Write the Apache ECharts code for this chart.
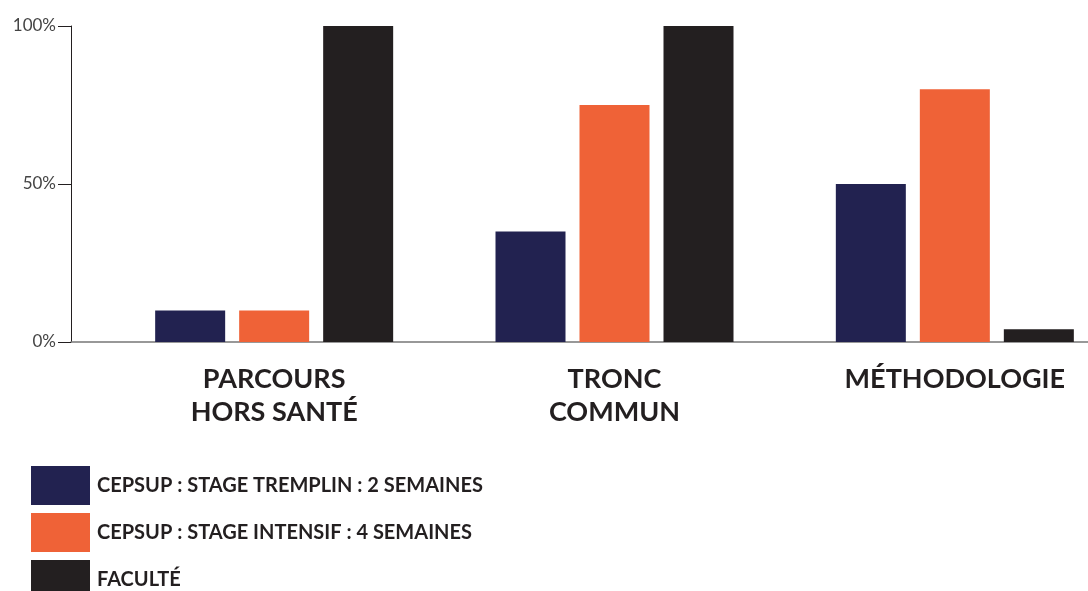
<!DOCTYPE html>
<html>
<head>
<meta charset="utf-8">
<script src="https://cdn.jsdelivr.net/npm/echarts@6/dist/echarts.min.js"></script>
<style>
html,body{margin:0;padding:0;background:#fff;}
#chart{width:1088px;height:591px;}
</style>
</head>
<body>
<div id="chart"></div>
<script>
const categories = ['PARCOURS\nHORS SANTÉ', 'TRONC\nCOMMUN', 'MÉTHODOLOGIE'];
const seriesNames = ['CEPSUP : STAGE TREMPLIN : 2 SEMAINES', 'CEPSUP : STAGE INTENSIF : 4 SEMAINES', 'FACULTÉ'];
const tremplin = [10, 35, 50];
const intensif = [10, 75, 80];
const faculte = [100, 100, 4];
const yTicks = [0, 50, 100];

const colors = ['#222250', '#EF6237', '#231F20'];
const dark = '#231F20';
const font = 'Lato';

const chart = echarts.init(document.getElementById('chart'));
chart.setOption({
  animation: false,
  backgroundColor: '#fff',
  grid: [
    {left: 71, right: 0, top: 26, bottom: 249, containLabel: false, outerBoundsMode: 'none'},
    {left: 104, right: -37, top: 26, bottom: 249, containLabel: false, outerBoundsMode: 'none'}
  ],
  xAxis: [
    {gridIndex: 0, type: 'category', data: [''],
     axisLine: {show: true, lineStyle: {color: '#777', width: 1.5}},
     axisTick: {show: false}, axisLabel: {show: false}},
    {gridIndex: 1, type: 'category', data: categories,
     axisLine: {show: false}, axisTick: {show: false},
     axisLabel: {margin: 21, color: dark, fontFamily: font, fontWeight: 'bold', fontSize: 27, lineHeight: 33, interval: 0}}
  ],
  yAxis: [
    {gridIndex: 0, type: 'value', min: yTicks[0], max: yTicks[yTicks.length-1], interval: 50,
     axisLine: {show: true, lineStyle: {color: dark, width: 1}},
     axisTick: {show: true, length: 13, lineStyle: {color: dark}},
     splitLine: {show: false},
     axisLabel: {margin: 15, color: '#444', fontFamily: font, fontSize: 17, formatter: '{value}%'}},
    {gridIndex: 1, type: 'value', min: 0, max: 100, show: false}
  ],
  legend: {
    orient: 'vertical', left: 31, top: 466, height: 200, padding: 0, icon: 'rect',
    itemWidth: 59, itemHeight: 39, itemGap: 8,
    textStyle: {color: dark, fontFamily: font, fontWeight: 'bold', fontSize: 20, padding: [0,0,0,2]},
    data: seriesNames
  },
  series: [
    {name: seriesNames[0], type: 'bar', xAxisIndex: 1, yAxisIndex: 1, data: tremplin, barWidth: 70, barGap: '20%', itemStyle: {color: colors[0]}},
    {name: seriesNames[1], type: 'bar', xAxisIndex: 1, yAxisIndex: 1, data: intensif, barWidth: 70, barGap: '20%', itemStyle: {color: colors[1]}},
    {name: seriesNames[2], type: 'bar', xAxisIndex: 1, yAxisIndex: 1, data: faculte, barWidth: 70, barGap: '20%', itemStyle: {color: colors[2]}}
  ]
});
</script>
</body>
</html>
